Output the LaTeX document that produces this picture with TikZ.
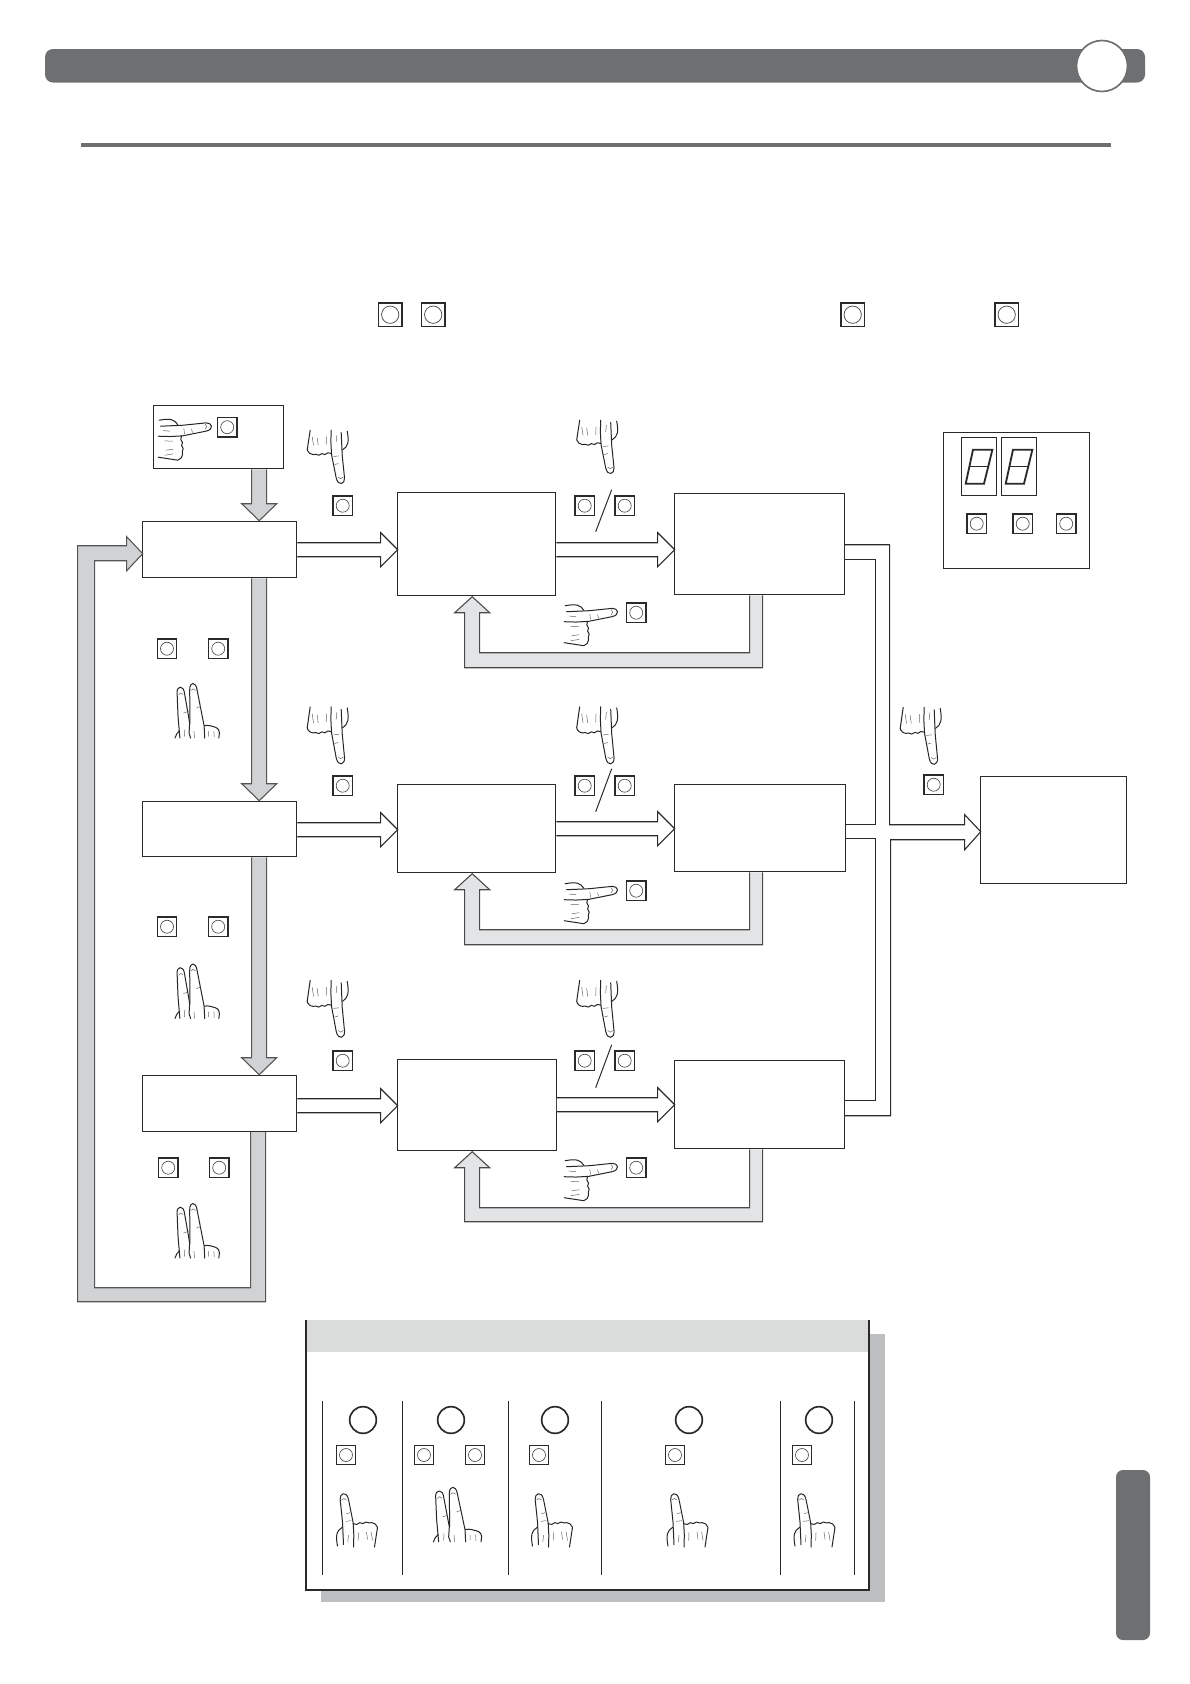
\documentclass[tikz,border=0pt]{standalone}
\usetikzlibrary{calc}
\definecolor{barg}{HTML}{6E6F71}
\definecolor{inkd}{HTML}{2A2A2A}
\definecolor{arrowg}{HTML}{D0D2D3}
\definecolor{retg}{HTML}{E3E4E5}
\definecolor{headg}{HTML}{DADCDC}
\definecolor{shadg}{HTML}{BDBFC1}
\tikzset{
  bxstyle/.style={draw=inkd,line width=0.65pt,fill=white,inner sep=0pt,outer sep=0pt},
  flow/.style={draw=inkd,line width=0.65pt},
  grayflow/.style={draw=inkd!80,line width=0.65pt,fill=arrowg},
  retflow/.style={draw=inkd!85,line width=0.65pt,fill=retg},
  whiteflow/.style={draw=inkd,line width=0.65pt,fill=white},
  sep/.style={draw=inkd,line width=0.6pt},
  hl/.style={draw=black!85,line width=0.6pt,line cap=round,line join=round},
  hs/.style={draw=black!60,line width=0.3pt,line cap=round},
  keybox/.style={draw=inkd,line width=0.95pt,fill=white,inner sep=0pt,outer sep=0pt,minimum size=11.6pt,
    path picture={\draw[black!70,line width=0.4pt] (path picture bounding box.center) circle (3.9pt);}},
  keybig/.style={draw=inkd,line width=1pt,fill=white,inner sep=0pt,outer sep=0pt,minimum size=14pt,
    path picture={\draw[black!70,line width=0.45pt] (path picture bounding box.center) circle (5.2pt);}},
  bigring/.style={circle,draw=inkd,line width=1pt,fill=white,inner sep=0pt,outer sep=0pt,minimum size=16pt},
  onehand/.pic={
    \begin{scope}[scale=1/3,shift={(-61.5,-82.5)}]
      \draw[hl] (21,158) -- (18,90) -- (11,22) .. controls (9,4) and (30,-5) .. (36,22) -- (50,92) -- (52,130) -- (51,165);
      \draw[hl] (50,95) .. controls (58,99) and (64,98) .. (70,92) .. controls (76,96) and (82,96) .. (88,90) .. controls (94,94) and (100,92) .. (106,92) .. controls (112,92) and (122,98) .. (123,106) -- (114,165);
      \draw[hl] (3,162) .. controls (-3,130) and (0,116) .. (17,106);
      \draw[hs] (15,24) .. controls (19,18) and (26,18) .. (30,24);
      \draw[hs] (30,65) -- (40,62) (28,88) -- (44,86);
      \draw[hs] (36,130) -- (34,150) (66,122) -- (65,145) (90,120) -- (93,142) (104,120) -- (108,145);
    \end{scope}},
  twohand/.pic={
    \begin{scope}[scale=1/3,shift={(-72.5,-83)}]
      \draw[hl] (16,165) -- (10,100) -- (7,30) .. controls (5,8) and (28,5) .. (31,30) -- (48,120) -- (46,150) -- (51,165);
      \draw[hl] (49,120) -- (48,20) .. controls (48,-5) and (68,-5) .. (72,20) -- (95,128) -- (97,165);
      \draw[hl] (96,128) .. controls (110,125) and (120,130) .. (130,132) .. controls (142,135) and (146,145) .. (145,150) -- (143,165);
      \draw[hl] (0,165) .. controls (3,155) and (8,148) .. (15,143);
      \draw[hs] (12,35) .. controls (16,28) and (22,28) .. (26,34) (52,22) .. controls (56,16) and (62,16) .. (67,22);
      \draw[hs] (28,90) -- (44,85) (70,75) -- (84,70);
      \draw[hs] (32,140) -- (31,160) (62,145) -- (64,165) (110,145) -- (110,160) (127,145) -- (128,162);
    \end{scope}}
}
\newcommand\bx[5]{\node[bxstyle,minimum width={(#4-#2)*0.6pt},minimum height={(#5-#3)*0.6pt}] (#1) at ({(#2+#4)/2},{(#3+#5)/2}) {};}
\newcommand\whitearrow[3]{%
  \coordinate (yy) at (0,#3);
  \coordinate (s) at ($(#1.east |- yy)+(0.55,0)$);
  \coordinate (t) at (#2.west |- yy);
  \draw[whiteflow,line join=miter] ($(s)+(0,-7)$) -- ($(t)+(-17,-7)$) -- ($(t)+(-17,-17)$) -- (t) -- ($(t)+(-17,17)$) -- ($(t)+(-17,7)$) -- ($(s)+(0,7)$);}
\newcommand\grayarrow[2]{%
  \coordinate (xx) at (258.5,0);
  \coordinate (s) at ($(xx |- #1.south)+(0,0.55)$);
  \coordinate (t) at (xx |- #2.north);
  \draw[grayflow] ($(s)+(-7.5,0)$) -- ($(t)+(-7.5,-18)$) -- ($(t)+(-17.5,-18)$) -- ($(t)+(0,-1)$) -- ($(t)+(17.5,-18)$) -- ($(t)+(7.5,-18)$) -- ($(s)+(7.5,0)$);}
\newcommand\returnarrow[4]{%
  \coordinate (xa) at ($(762,0.55)$);
  \coordinate (xb) at ($(749,0.55)$);
  \coordinate (xt) at (471.5,0);
  \coordinate (t) at (xt |- #2.south);
  \draw[retflow] ($(xa |- #1.south)+(0,0.55)$) -- (762,#4) -- (464,#4) -- ($(t)+(-7.5,17)$) -- ($(t)+(-17.5,17)$) -- ($(t)+(0,1)$) -- ($(t)+(17.5,17)$) -- ($(t)+(7.5,17)$) -- (479,#3) -- (749,#3) -- ($(xb |- #1.south)+(0,0.55)$);}
\begin{document}
\begin{tikzpicture}[x=0.6pt,y=-0.6pt]
\useasboundingbox (0,0) rectangle (1190,1684);
\fill[white] (0,0) rectangle (1190,1684);
% page furniture
\fill[barg,rounded corners=4.8pt] (45,49) rectangle (1145,82.5);
\node[circle,draw=barg,line width=1pt,fill=white,inner sep=0pt,minimum size=30.6pt] (pagedisc) at (1102,66) {};
\fill[barg] (81,143) rectangle (1111,147);
\fill[barg,rounded corners=4.2pt] (1116,1470) rectangle (1150,1640);
\begin{scope}[shift={(0.7,0.7)}]
% keys in running text
\node[keybig] (t1) at (389.5,314) {};
\node[keybig] (t2) at (432.5,314) {};
\node[keybig] (t3) at (852,314) {};
\node[keybig] (t4) at (1006,314) {};
% boxes
\bx{start}{153}{405}{282.5}{468}
\bx{a1}{142}{521}{296}{577}
\bx{a2}{142}{801}{296}{856}
\bx{a3}{142}{1075}{296}{1131}
\bx{b1}{397}{492}{555}{595}
\bx{b2}{397}{784}{555}{872}
\bx{b3}{397}{1059}{555.5}{1150}
\bx{c1}{674}{493}{844}{594}
\bx{c2}{674}{784}{844.5}{871}
\bx{c3}{674}{1060}{844}{1148}
\bx{final}{980}{776}{1126}{883}
% vertical flow
\grayarrow{start}{a1}
\grayarrow{a1}{a2}
\grayarrow{a2}{a3}
% loop back
\draw[grayflow] (265,1131.5) -- (265,1301) -- (77,1301) -- (77,545) -- (126,545) -- (126,536) -- (a1.west |- 0,553) -- (126,570) -- (126,560) -- (94,560) -- (94,1287) -- (250,1287) -- (250,1131.5);
% horizontal flows
\whitearrow{a1}{b1}{549}
\whitearrow{b1}{c1}{549}
\whitearrow{a2}{b2}{829}
\whitearrow{b2}{c2}{828}
\whitearrow{a3}{b3}{1105}
\whitearrow{b3}{c3}{1104}
\returnarrow{c1}{b1}{652}{667}
\returnarrow{c2}{b2}{929}{944}
\returnarrow{c3}{b3}{1207}{1221}
% collector
\draw[flow] (c1.east |- 0,544) -- (889,544) -- (889,824) -- (964,824) -- (964,814) -- (final.west |- 0,831) -- (964,849) -- (964,839) -- (890,839) -- (890,1115) -- (c3.east |- 0,1115);
\draw[flow] (c1.east |- 0,559) -- (875,559) -- (875,824) -- (c2.east |- 0,824);
\draw[flow] (c2.east |- 0,838) -- (875,838) -- (875,1100) -- (c3.east |- 0,1100);
% keys, flow area
\node[keybox] (k0) at (226.5,426.5) {};
\node[keybox] (k1) at (342,505) {};
\node[keybox] (k2) at (342,785) {};
\node[keybox] (k3) at (342,1060) {};
\node[keybox] (m1a) at (584,505) {};
\node[keybox] (m1b) at (624,505) {};
\node[keybox] (m2a) at (584,785) {};
\node[keybox] (m2b) at (624,785) {};
\node[keybox] (m3a) at (584,1060) {};
\node[keybox] (m3b) at (624,1060) {};
\draw[sep] (611,489) -- (595,531);
\draw[sep] (611,768) -- (595,811);
\draw[sep] (611,1044) -- (595,1087);
\node[keybox] (r1) at (635.5,612) {};
\node[keybox] (r2) at (635.5,890) {};
\node[keybox] (r3) at (635.5,1167) {};
\node[keybox] (l1a) at (166.3,648) {};
\node[keybox] (l1b) at (217.5,648) {};
\node[keybox] (l2a) at (166.3,926) {};
\node[keybox] (l2b) at (217.5,926) {};
\node[keybox] (l3a) at (167.5,1167) {};
\node[keybox] (l3b) at (218.5,1167) {};
\node[keybox] (ke) at (933,784) {};
% hands
\pic[rotate=-90] at (185,439) {onehand};
\pic[rotate=-90] at (591,624.5) {onehand};
\pic[rotate=-90] at (591,902.5) {onehand};
\pic[rotate=-90] at (591,1179.5) {onehand};
\foreach \hx/\hy in {327/457,596.5/447}
  \pic[rotate=180] at (\hx,\hy) {onehand};
\foreach \hx/\hy in {327/735.5,327/1009,596.5/735.5,596.5/1009,920/736}
  \pic[rotate=180,yscale=1.07] at (\hx,\hy) {onehand};
\foreach \hy in {710,990.5,1230}
  \pic[xscale=0.92] at (196.5,\hy) {twohand};
% display panel
\bx{panel}{943}{432}{1089}{568}
\bx{d1}{961}{437}{996}{495}
\bx{d2}{1001}{437}{1036}{495}
\foreach \dx in {0,40}{
  \draw[inkd,line width=1.1pt,line join=miter] (972.3+\dx,449) -- (991.7+\dx,449) -- (983.3+\dx,483) -- (965+\dx,483) -- cycle;
  \draw[inkd,line width=0.9pt] (968.5+\dx,466) -- (987.5+\dx,466);
}
\node[keybox] (p1) at (976,523) {};
\node[keybox] (p2) at (1022,523) {};
\node[keybox] (p3) at (1065.5,523) {};
\end{scope}
% legend
\fill[shadg] (321,1334) rectangle (885,1602);
\fill[white] (306,1320) rectangle (869,1590);
\fill[headg] (306,1320) rectangle (868,1352);
\draw[flow] (306,1320) -- (306,1590) -- (869,1590) -- (869,1320);
\foreach \vx in {322,402,508,601,780,854}
  \draw[sep] (\vx,1401) -- (\vx,1575);
\node[bigring] (c1r) at (363,1420) {};
\node[bigring] (c2r) at (451,1420) {};
\node[bigring] (c3r) at (555,1420) {};
\node[bigring] (c4r) at (689,1420) {};
\node[bigring] (c5r) at (819,1420) {};
\node[keybox] (q1) at (346,1455) {};
\node[keybox] (q2) at (424,1455) {};
\node[keybox] (q3) at (475,1455) {};
\node[keybox] (q4) at (539,1455) {};
\node[keybox] (q5) at (675,1455) {};
\node[keybox] (q6) at (802,1455) {};
\foreach \hx in {357,552,687.5,814.5}
  \pic at (\hx,1519.5) {onehand};
\pic at (457.5,1514.5) {twohand};
\end{tikzpicture}
\end{document}
